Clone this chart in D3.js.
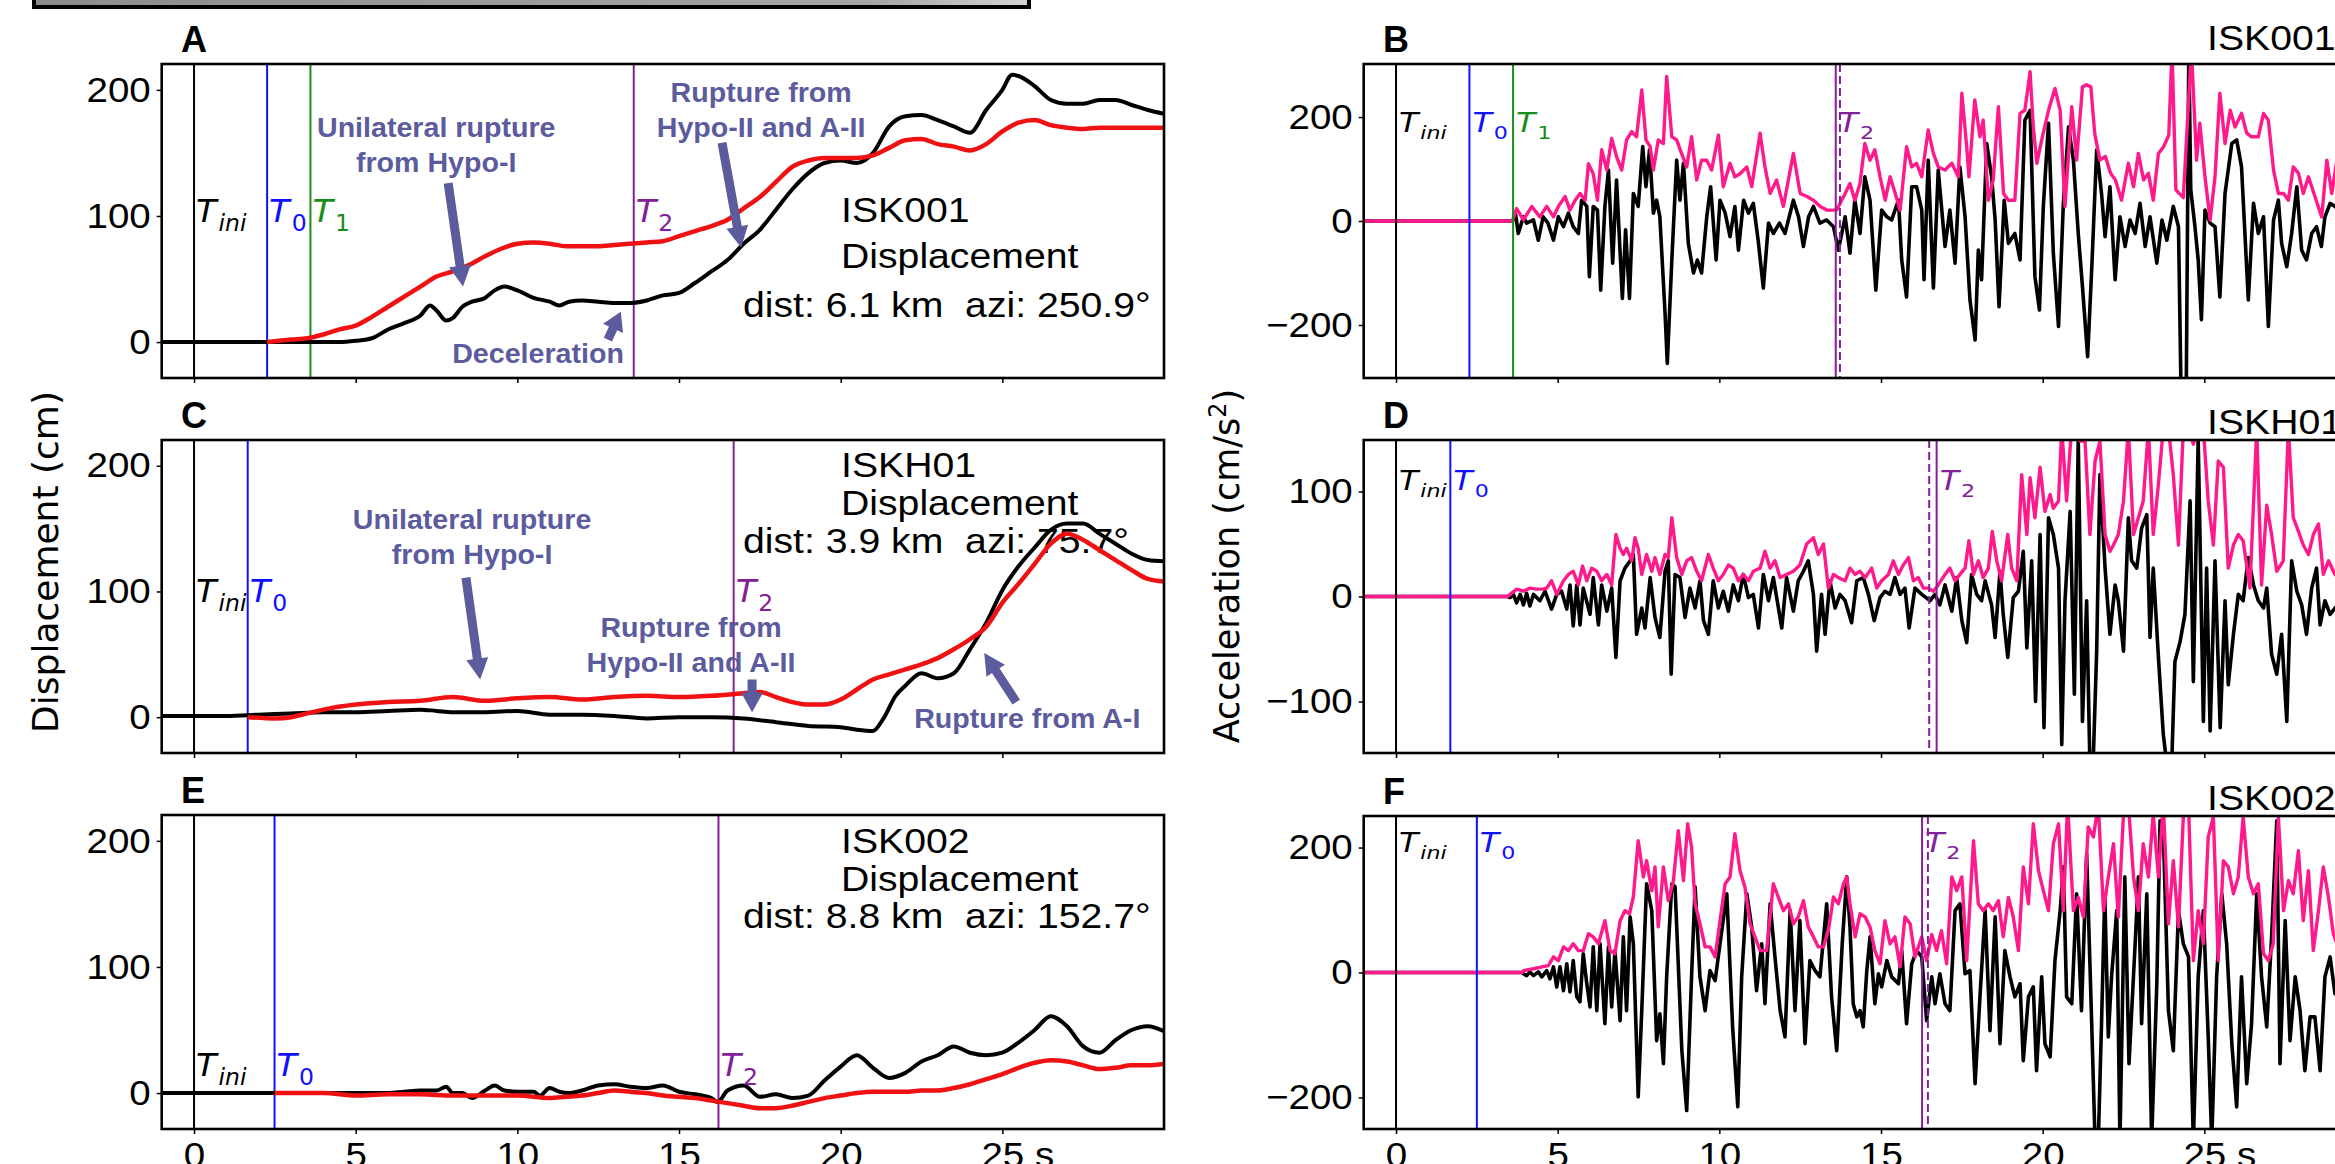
<!DOCTYPE html>
<html>
<head>
<meta charset="utf-8">
<script src="https://cdn.jsdelivr.net/npm/d3@7"></script>
<style>
body { margin: 0; background: #fff; }
svg { display: block; }
</style>
</head>
<body>
<svg id="fig" width="2335" height="1164"></svg>
<script>
// ---- data: [time (s), value] ----
var dispA_obs = [[-1,0],[4,0],[4.5,0],[5,1],[5.5,3],[6,10],[6.5,15],[7,21],[7.3,29],[7.5,25],[7.8,17],[8,19],[8.3,28],[8.6,32],[9,35],[9.3,41],[9.6,44],[10,41],[10.5,35],[11,32],[11.3,29],[11.6,32],[12,33],[12.5,32],[13,31],[13.5,31],[14,33],[14.5,37],[15,39],[15.5,47],[16,56],[16.5,65],[17,78],[17.5,89],[18,105],[18.5,121],[19,134],[19.5,142],[20,144],[20.5,142],[21,150],[21.5,171],[22,179],[22.5,180],[23,176],[23.5,171],[24,166],[24.5,184],[25,200],[25.3,212],[25.5,211],[26,203],[26.5,192],[27,189],[27.5,189],[28,192],[28.5,192],[29,188],[29.5,184],[30,181]];
var dispA_syn = [[2.26,0],[3,2],[3.5,3],[4,6],[4.5,10],[5,13],[5.5,20],[6,28],[6.5,36],[7,44],[7.5,52],[8,56],[8.5,61],[9,68],[9.5,74],[10,78],[10.5,79],[11,78],[11.5,76],[12,76],[12.5,76],[13,77],[13.5,78],[14,79],[14.5,80],[15,84],[15.5,88],[16,92],[16.5,97],[17,106],[17.5,115],[18,127],[18.5,139],[19,144],[19.5,146],[20,146],[20.5,146],[21,148],[21.5,154],[22,160],[22.5,161],[23,157],[23.5,155],[24,152],[24.5,157],[25,167],[25.5,174],[26,176],[26.5,172],[27,170],[27.5,169],[28,170],[29,170],[30,170]];
var dispC_obs = [[-1,1],[1,1],[2,2],[3,3],[4,4],[5,4],[6,5],[7,6],[7.5,5],[8,4],[9,4],[10,5],[11,2],[12,2],[13,1],[14,-1],[15,0],[16,0],[17,-1],[18,-4],[19,-7],[20,-8],[20.5,-10],[21,-11],[21.3,-2],[21.7,17],[22,25],[22.5,35],[23,31],[23.5,35],[24,54],[24.5,75],[25,101],[25.5,120],[26,135],[26.5,149],[27,154],[27.5,154],[28,146],[28.5,138],[29,130],[29.5,125],[30,124]];
var dispC_syn = [[1.66,0],[2.5,-1],[3,0],[3.5,3],[4,6],[5,10],[6,12],[7,13],[8,16],[9,13],[10,15],[11,16],[12,14],[13,16],[14,17],[15,16],[16,17],[17,19],[17.5,20],[18,16],[18.5,12],[19,10],[19.5,10],[20,14],[20.5,22],[21,30],[21.5,34],[22,38],[22.5,42],[23,47],[23.5,54],[24,62],[24.5,72],[25,91],[25.5,106],[26,122],[26.5,138],[27,146],[27.5,141],[28,133],[28.5,125],[29,117],[29.5,110],[30,108]];
var dispE_obs = [[-1,0],[6,0],[6.5,1],[7,2],[7.5,2],[7.8,5],[8,0],[8.3,0],[8.6,-4],[9,2],[9.3,6],[9.6,2],[10,1],[10.5,1],[10.7,-2],[11,4],[11.3,1],[11.6,0],[12,2],[12.5,6],[13,7],[13.5,5],[14,4],[14.5,6],[15,1],[15.5,-1],[16,-4],[16.2,-7],[16.5,2],[17,6],[17.5,-3],[18,-1],[18.5,-4],[19,-2],[19.5,10],[20,21],[20.5,30],[21,20],[21.5,12],[22,16],[22.5,25],[23,30],[23.5,37],[24,32],[24.5,30],[25,32],[25.5,40],[26,50],[26.5,61],[27,53],[27.5,37],[28,32],[28.5,42],[29,50],[29.5,53],[30,49]];
var dispE_syn = [[2.49,0],[4,0],[5,-2],[6,-1],[7,-1],[8,-2],[9,-2],[10,-2],[11,-4],[11.5,-3],[12,-2],[12.5,0],[13,2],[13.5,1],[14,0],[14.5,-2],[15,-3],[15.5,-4],[16,-6],[16.5,-8],[17,-10],[17.5,-12],[18,-12],[18.5,-10],[19,-7],[19.5,-4],[20,-2],[20.5,0],[21,1],[22,1],[22.5,2],[23,2],[23.5,4],[24,7],[24.5,11],[25,15],[25.5,20],[26,24],[26.5,26],[27,25],[27.5,22],[28,19],[28.5,20],[29,22],[29.5,22],[30,23]];

var accB_obs = [[-1,0],[3.60,0],[3.70,12],[3.78,-24],[3.94,8],[4.04,-4],[4.25,2],[4.40,-37],[4.55,8],[4.70,-4],[4.87,-37],[5.02,8],[5.18,-11],[5.33,15],[5.48,-11],[5.64,-24],[5.74,40],[5.90,28],[5.98,-107],[6.10,28],[6.23,21],[6.33,-133],[6.46,28],[6.57,98],[6.70,-81],[6.82,79],[7.00,-149],[7.10,-17],[7.22,-149],[7.34,53],[7.49,28],[7.63,143],[7.73,66],[7.84,137],[7.96,15],[8.06,40],[8.16,8],[8.32,-177],[8.39,-274],[8.53,-75],[8.68,117],[8.78,40],[8.89,111],[9.04,-43],[9.20,-100],[9.32,-75],[9.45,-100],[9.61,8],[9.73,66],[9.90,-75],[10.02,40],[10.18,15],[10.33,-30],[10.48,28],[10.59,-56],[10.75,40],[10.90,15],[11.05,34],[11.20,-37],[11.36,-129],[11.52,-4],[11.67,-24],[11.86,-4],[12.03,-24],[12.29,40],[12.45,8],[12.60,-49],[12.76,8],[12.91,28],[13.11,-4],[13.32,2],[13.53,-11],[13.68,-56],[13.89,8],[14.04,-62],[14.19,40],[14.35,-24],[14.50,85],[14.66,40],[14.84,-133],[15.02,21],[15.18,8],[15.33,2],[15.54,40],[15.64,-75],[15.79,-146],[15.95,66],[16.10,66],[16.26,21],[16.33,-113],[16.46,117],[16.62,-129],[16.77,98],[16.98,-49],[17.13,21],[17.29,-81],[17.44,104],[17.60,8],[17.75,-151],[17.91,-229],[18.01,-56],[18.11,-113],[18.27,149],[18.42,85],[18.53,2],[18.65,-165],[18.81,40],[18.94,-43],[19.14,-24],[19.30,-75],[19.45,194],[19.61,213],[19.76,-107],[19.90,-171],[20.02,28],[20.18,188],[20.33,-62],[20.49,-203],[20.64,34],[20.80,181],[20.95,117],[21.10,-24],[21.23,-126],[21.39,-261],[21.52,-88],[21.67,137],[21.82,53],[21.93,-30],[22.08,66],[22.24,-113],[22.39,8],[22.55,-49],[22.70,2],[22.86,-24],[23.01,34],[23.17,-49],[23.32,8],[23.53,-81],[23.69,2],[23.84,-37],[24.04,28],[24.20,-11],[24.28,-330],[24.44,-330],[24.52,330],[24.58,60],[24.71,-11],[24.81,-75],[24.91,-190],[25.02,21],[25.18,-4],[25.33,-11],[25.48,-146],[25.64,53],[25.85,149],[26.00,156],[26.15,104],[26.36,-152],[26.52,34],[26.67,-24],[26.83,8],[26.98,-203],[27.14,2],[27.29,40],[27.39,-43],[27.55,-88],[27.70,-24],[27.86,66],[28.01,-56],[28.16,-75],[28.32,-24],[28.47,-11],[28.62,-49],[28.73,8],[28.89,34],[29.04,28],[29.2,20]];
var accB_syn = [[-1,0],[3.60,0],[3.73,24],[3.94,2],[4.20,28],[4.45,8],[4.66,28],[4.87,8],[5.02,28],[5.23,47],[5.38,21],[5.54,40],[5.69,53],[5.85,40],[5.95,110],[6.10,91],[6.23,40],[6.36,137],[6.52,98],[6.67,159],[6.82,124],[6.98,98],[7.13,156],[7.29,172],[7.44,162],[7.60,252],[7.73,156],[7.86,143],[7.96,98],[8.11,156],[8.27,149],[8.37,278],[8.53,162],[8.68,156],[8.83,130],[8.99,104],[9.14,162],[9.30,79],[9.45,117],[9.61,117],[9.76,98],[9.97,165],[10.12,66],[10.33,111],[10.48,85],[10.64,91],[10.85,104],[11.00,66],[11.26,169],[11.41,104],[11.57,53],[11.77,79],[11.98,28],[12.29,130],[12.50,53],[12.71,47],[12.91,40],[13.12,28],[13.32,21],[13.63,21],[13.89,53],[14.04,72],[14.19,40],[14.35,72],[14.50,149],[14.66,117],[14.81,137],[14.97,85],[15.13,40],[15.28,85],[15.44,53],[15.59,21],[15.79,143],[15.95,104],[16.10,111],[16.26,85],[16.46,175],[16.62,130],[16.77,104],[16.98,98],[17.19,111],[17.39,85],[17.50,246],[17.65,143],[17.72,85],[17.90,233],[18.06,162],[18.16,194],[18.32,40],[18.47,79],[18.63,220],[18.79,53],[18.94,40],[19.14,40],[19.30,207],[19.45,213],[19.61,287],[19.71,181],[19.82,111],[19.97,156],[20.18,213],[20.38,255],[20.54,213],[20.69,28],[20.90,220],[21.05,117],[21.23,258],[21.36,262],[21.49,258],[21.61,168],[21.77,117],[21.94,124],[22.10,92],[22.25,79],[22.44,40],[22.65,111],[22.81,66],[22.96,130],[23.12,79],[23.27,92],[23.42,40],[23.58,130],[23.74,143],[23.90,165],[24.00,330],[24.12,60],[24.35,45],[24.60,330],[24.76,117],[24.86,188],[25.02,85],[25.18,2],[25.33,85],[25.48,246],[25.64,149],[25.80,213],[25.95,181],[26.15,207],[26.31,169],[26.46,162],[26.67,162],[26.83,207],[26.98,194],[27.14,98],[27.29,53],[27.45,53],[27.60,40],[27.75,104],[27.91,92],[28.06,53],[28.22,85],[28.42,47],[28.63,8],[28.79,117],[28.94,53],[29.10,117]];

var accD_obs = [[-1,0],[3.45,0],[3.53,-1],[3.63,2],[3.73,-6],[3.84,2],[3.94,-8],[4.04,3],[4.14,-9],[4.25,2],[4.45,-4],[4.61,5],[4.81,-12],[4.97,2],[5.12,5],[5.28,-12],[5.38,11],[5.48,-28],[5.59,11],[5.69,-27],[5.79,8],[6.00,-17],[6.10,18],[6.26,-27],[6.36,11],[6.52,-14],[6.67,8],[6.80,-58],[6.93,15],[7.08,27],[7.24,34],[7.34,40],[7.44,-36],[7.60,-11],[7.70,-30],[7.86,18],[8.01,-20],[8.16,-39],[8.32,24],[8.42,34],[8.51,-74],[8.63,21],[8.78,18],[8.94,-20],[9.09,8],[9.25,-11],[9.40,15],[9.51,-23],[9.66,-36],[9.81,15],[9.97,-11],[10.12,5],[10.28,-14],[10.43,11],[10.59,-4],[10.74,21],[10.90,-1],[11.05,2],[11.21,-30],[11.36,21],[11.52,-4],[11.67,18],[11.93,-30],[12.08,18],[12.29,-14],[12.44,15],[12.60,24],[12.75,34],[12.91,2],[13.01,-52],[13.16,2],[13.27,-36],[13.42,15],[13.58,-11],[13.73,2],[13.89,-4],[14.09,-25],[14.25,15],[14.45,18],[14.61,2],[14.79,-23],[14.97,-1],[15.12,5],[15.28,2],[15.43,18],[15.59,2],[15.74,8],[15.87,-30],[16.05,8],[16.26,2],[16.52,-4],[16.67,2],[16.82,-8],[16.98,11],[17.19,-14],[17.34,18],[17.50,-23],[17.65,-44],[17.80,21],[17.96,2],[18.11,-4],[18.22,15],[18.42,-8],[18.53,-39],[18.68,24],[18.78,-17],[18.92,-58],[19.09,-1],[19.25,5],[19.40,43],[19.51,-49],[19.66,34],[19.78,-100],[19.92,59],[20.04,-125],[20.18,75],[20.33,59],[20.49,27],[20.59,-141],[20.69,-4],[20.85,81],[20.98,-93],[21.10,150],[21.23,-119],[21.36,-4],[21.46,-160],[21.56,-160],[21.67,-52],[21.77,116],[21.93,27],[22.08,-36],[22.24,11],[22.34,-4],[22.50,-52],[22.65,75],[22.75,34],[22.91,27],[23.06,65],[23.22,78],[23.32,-39],[23.42,27],[23.58,-58],[23.73,-131],[23.84,-160],[23.99,-160],[24.09,-62],[24.25,-43],[24.40,-17],[24.56,91],[24.66,-81],[24.81,150],[24.97,-119],[25.07,27],[25.18,-128],[25.33,34],[25.49,-125],[25.64,-4],[25.74,-84],[25.90,-36],[26.05,2],[26.20,-4],[26.36,37],[26.52,11],[26.67,-4],[26.83,-11],[26.93,8],[27.08,-55],[27.24,-74],[27.39,-36],[27.55,-119],[27.70,34],[27.86,5],[28.01,-8],[28.16,-36],[28.32,8],[28.47,27],[28.58,-27],[28.73,-4],[28.89,-17],[29.04,-11],[29.2,-5]];
var accD_syn = [[-1,0],[3.45,0],[3.53,2],[3.73,7],[3.94,5],[4.14,8],[4.35,7],[4.56,7],[4.66,8],[4.81,15],[4.97,2],[5.18,15],[5.33,21],[5.48,24],[5.64,11],[5.77,29],[5.90,15],[6.05,27],[6.21,24],[6.36,15],[6.52,21],[6.67,11],[6.80,59],[6.93,46],[7.03,40],[7.13,46],[7.29,34],[7.39,56],[7.49,46],[7.60,21],[7.75,40],[7.91,24],[8.01,37],[8.16,21],[8.32,40],[8.42,37],[8.53,75],[8.68,37],[8.84,21],[8.99,34],[9.14,37],[9.30,24],[9.45,15],[9.66,40],[9.81,27],[9.97,15],[10.12,21],[10.28,30],[10.43,27],[10.59,15],[10.74,21],[10.90,15],[11.05,24],[11.26,27],[11.41,43],[11.57,27],[11.72,34],[11.88,18],[12.08,21],[12.29,24],[12.49,30],[12.70,50],[12.91,56],[13.06,40],[13.22,50],[13.37,8],[13.53,21],[13.68,18],[13.89,15],[14.04,27],[14.20,21],[14.35,24],[14.51,18],[14.71,27],[14.87,8],[15.02,15],[15.23,21],[15.38,34],[15.54,21],[15.69,30],[15.85,37],[16.00,15],[16.15,18],[16.31,8],[16.46,8],[16.62,5],[16.77,11],[16.98,21],[17.13,27],[17.29,15],[17.44,21],[17.60,27],[17.72,53],[17.86,21],[18.01,34],[18.16,18],[18.32,27],[18.44,62],[18.58,34],[18.73,15],[18.92,59],[19.04,27],[19.20,15],[19.35,116],[19.51,59],[19.61,113],[19.76,75],[19.92,123],[20.07,81],[20.23,97],[20.33,84],[20.49,91],[20.59,160],[20.74,91],[20.89,160],[21.05,160],[21.15,148],[21.31,148],[21.46,59],[21.62,129],[21.77,148],[21.93,59],[22.08,43],[22.19,49],[22.34,59],[22.50,91],[22.65,160],[22.81,59],[22.96,75],[23.11,91],[23.27,160],[23.42,59],[23.58,107],[23.73,160],[23.89,160],[24.04,116],[24.20,49],[24.35,160],[24.51,160],[24.66,145],[24.81,160],[24.97,160],[25.12,91],[25.28,49],[25.43,129],[25.59,123],[25.74,27],[25.90,49],[26.05,59],[26.20,53],[26.41,8],[26.62,160],[26.77,11],[26.93,87],[27.08,59],[27.24,24],[27.44,34],[27.60,160],[27.75,75],[27.91,62],[28.06,49],[28.22,40],[28.37,59],[28.53,69],[28.68,21],[28.84,34],[29.04,21],[29.2,25]];

var accF_obs = [[-1,0],[3.9,0],[3.94,-2],[4.04,-5],[4.14,1],[4.25,-5],[4.40,1],[4.51,-7],[4.66,3],[4.76,-10],[4.87,9],[4.97,-23],[5.07,9],[5.18,-29],[5.28,14],[5.38,-31],[5.48,19],[5.59,-39],[5.69,-47],[5.79,30],[5.90,-18],[6.00,-55],[6.10,41],[6.21,-61],[6.31,46],[6.46,-82],[6.57,41],[6.67,-55],[6.77,35],[6.93,-77],[7.03,57],[7.13,-61],[7.24,89],[7.34,46],[7.49,-199],[7.60,-61],[7.75,142],[7.91,99],[8.06,-109],[8.16,-66],[8.27,-146],[8.37,-7],[8.53,142],[8.63,137],[8.84,-125],[8.99,-221],[9.14,-7],[9.25,137],[9.40,-7],[9.56,-61],[9.71,3],[9.87,-13],[10.02,46],[10.23,126],[10.41,-87],[10.57,-215],[10.69,-7],[10.85,126],[11.00,73],[11.15,-29],[11.31,46],[11.41,-50],[11.57,110],[11.72,25],[11.88,-61],[12.03,-103],[12.19,99],[12.34,-61],[12.49,83],[12.65,-114],[12.80,19],[12.96,3],[13.11,-7],[13.32,110],[13.47,-39],[13.63,-125],[13.80,46],[13.94,153],[14.04,73],[14.14,-50],[14.25,-71],[14.35,-61],[14.45,-87],[14.56,3],[14.66,57],[14.81,-50],[14.92,-2],[15.02,-23],[15.18,19],[15.33,-7],[15.54,-18],[15.64,35],[15.79,-82],[15.95,14],[16.10,35],[16.26,25],[16.41,-77],[16.57,-7],[16.67,-50],[16.82,-2],[16.98,-50],[17.13,-61],[17.29,99],[17.44,110],[17.60,-2],[17.75,3],[17.91,-178],[18.06,-39],[18.22,99],[18.37,-93],[18.53,89],[18.68,-114],[18.83,35],[18.99,-7],[19.14,-39],[19.30,-18],[19.40,-141],[19.56,-39],[19.71,-23],[19.81,-157],[19.97,-7],[20.07,-114],[20.23,-135],[20.38,19],[20.54,99],[20.64,169],[20.74,-39],[20.90,-50],[21.05,126],[21.20,-61],[21.36,190],[21.51,-71],[21.62,-270],[21.72,-270],[21.82,-82],[21.92,126],[22.03,-103],[22.13,-7],[22.29,99],[22.39,-270],[22.54,153],[22.67,-146],[22.86,46],[22.96,153],[23.06,-82],[23.22,126],[23.37,-270],[23.53,-18],[23.63,243],[23.73,227],[23.89,-61],[24.04,-125],[24.20,99],[24.35,46],[24.51,25],[24.66,-270],[24.81,-7],[24.97,99],[25.12,-103],[25.23,-270],[25.38,-7],[25.54,126],[25.69,46],[25.85,-114],[26.00,-215],[26.15,-7],[26.31,-178],[26.46,-82],[26.62,126],[26.77,-7],[26.93,-87],[27.08,57],[27.24,243],[27.34,-146],[27.50,83],[27.65,-109],[27.81,-7],[27.96,-61],[28.11,-157],[28.27,-71],[28.42,-71],[28.58,-157],[28.73,-7],[28.89,25],[29.04,-34],[29.2,-20]];
var accF_syn = [[-1,0],[3.9,0],[3.94,3],[4.25,6],[4.51,9],[4.71,11],[4.87,25],[5.02,19],[5.18,41],[5.33,35],[5.48,46],[5.64,35],[5.79,35],[5.95,62],[6.10,57],[6.26,46],[6.46,83],[6.62,35],[6.77,30],[6.93,83],[7.08,99],[7.22,94],[7.34,121],[7.49,211],[7.65,153],[7.75,179],[7.91,131],[8.01,169],[8.11,73],[8.27,169],[8.42,115],[8.58,147],[8.73,227],[8.89,147],[9.02,238],[9.14,201],[9.25,110],[9.40,78],[9.56,41],[9.71,41],[9.87,25],[10.02,83],[10.18,142],[10.33,153],[10.48,222],[10.64,163],[10.79,137],[10.95,78],[11.10,57],[11.26,35],[11.46,35],[11.67,142],[11.82,121],[11.98,99],[12.14,110],[12.29,78],[12.44,89],[12.60,115],[12.75,73],[12.91,57],[13.06,41],[13.22,41],[13.37,67],[13.53,121],[13.68,110],[13.84,142],[13.94,153],[14.04,110],[14.20,57],[14.35,94],[14.51,89],[14.66,73],[14.81,35],[14.97,14],[15.12,83],[15.28,46],[15.43,57],[15.59,9],[15.74,89],[15.90,78],[16.05,25],[16.26,57],[16.41,19],[16.57,61],[16.72,35],[16.87,67],[17.03,14],[17.19,153],[17.34,131],[17.50,153],[17.65,19],[17.86,211],[18.01,110],[18.16,99],[18.32,110],[18.47,99],[18.63,115],[18.78,57],[18.94,120],[19.09,89],[19.25,35],[19.40,169],[19.56,110],[19.71,238],[19.87,163],[20.02,131],[20.18,99],[20.33,206],[20.49,238],[20.64,99],[20.77,270],[20.95,99],[21.10,120],[21.26,89],[21.41,233],[21.57,217],[21.72,270],[21.88,99],[22.03,153],[22.19,206],[22.34,89],[22.50,254],[22.65,270],[22.81,153],[22.96,99],[23.11,206],[23.27,153],[23.42,254],[23.58,153],[23.73,270],[23.89,78],[24.04,179],[24.20,73],[24.35,249],[24.51,270],[24.66,19],[24.81,99],[24.97,46],[25.12,217],[25.28,249],[25.43,19],[25.59,179],[25.74,169],[25.90,126],[26.05,153],[26.20,249],[26.36,153],[26.52,126],[26.67,142],[26.83,30],[26.98,19],[27.13,46],[27.29,249],[27.45,99],[27.60,147],[27.75,126],[27.91,195],[28.06,83],[28.22,163],[28.37,35],[28.53,99],[28.68,169],[28.84,120],[28.99,62],[29.1,46]];

// phase times (s): [subscript, time]
var marksA = [["ini",0],["0",2.26],["1",3.6],["2",13.6]];
var marksB = [["ini",0],["0",2.27],["1",3.62],["2",13.6],["2d",13.73]];
var marksC = [["ini",0],["0",1.66],["2",16.69]];
var marksD = [["ini",0],["0",1.68],["2d",16.49],["2",16.72]];
var marksE = [["ini",0],["0",2.49],["2",16.22]];
var marksF = [["ini",0],["0",2.5],["2",16.27],["2d",16.45]];

var stations = ["ISK001","ISKH01","ISK002"];
var dists = ["6.1","3.9","8.8"];
var azis = ["250.9","75.7","152.7"];
var xTicks = [0,5,10,15,20,25];

// ---- layout ----
var SANS = '"Liberation Sans", Arial, Helvetica, sans-serif';
var MATH = '"DejaVu Sans", sans-serif';
var NOTE = "#5b5b9d";
var markColor = {"ini":"#000","0":"#1010ff","1":"#1a8c1a","2":"#82209a","2d":"#82209a"};

var svg = d3.select("#fig");

var defs = svg.append("defs");
var grad = defs.append("linearGradient").attr("id","banner");
grad.append("stop").attr("offset","0").attr("stop-color","#8c8c8c");
grad.append("stop").attr("offset","0.85").attr("stop-color","#a6a6a6");
grad.append("stop").attr("offset","1").attr("stop-color","#d4d4d4");
svg.append("rect").attr("x",34).attr("y",-20).attr("width",995).attr("height",27)
  .attr("fill","url(#banner)").attr("stroke","#000").attr("stroke-width",4);

var rows = [[64,378],[440,753],[815,1129]];
var xLeft = d3.scaleLinear().domain([-1,30]).range([161.7,1164]);
var xRight = d3.scaleLinear().domain([-1,30]).range([1363.7,2366]);

var panels = [
  {key:"A", side:0, row:0, kind:"disp", obs:dispA_obs, syn:dispA_syn, marks:marksA, dom:[-28.5,220.5], ticks:[0,100,200], tLab:222,
   info:[[841,222],[841,268],[743,317]],
   notes:[{text:["Unilateral rupture","from Hypo-I"], at:[7.49,163], arrow:[[7.86,126],[8.32,44]]},
          {text:["Rupture from","Hypo-II and A-II"], at:[17.54,190], arrow:[[16.33,158],[16.92,75]]},
          {text:["Deceleration"], at:[10.64,-17], arrow:[[12.8,2],[13.2,24]]}]},
  {key:"C", side:0, row:1, kind:"disp", obs:dispC_obs, syn:dispC_syn, marks:marksC, dom:[-28.5,220.5], ticks:[0,100,200], tLab:602,
   info:[[841,477],[841,515],[743,553]],
   notes:[{text:["Unilateral rupture","from Hypo-I"], at:[8.6,150], arrow:[[8.41,111],[8.85,30]]},
          {text:["Rupture from","Hypo-II and A-II"], at:[15.37,64], arrow:[[17.26,30],[17.26,4]]},
          {text:["Rupture from A-I"], at:[25.77,-9], arrow:[[25.43,12],[24.44,51]]}]},
  {key:"E", side:0, row:2, kind:"disp", obs:dispE_obs, syn:dispE_syn, marks:marksE, dom:[-28.5,220.5], ticks:[0,100,200], tLab:1076,
   info:[[841,853],[841,891],[743,928]], notes:[]},
  {key:"B", side:1, row:0, kind:"acc", obs:accB_obs, syn:accB_syn, marks:marksB, dom:[-302,302], ticks:[-200,0,200], tLab:132, stY:50},
  {key:"D", side:1, row:1, kind:"acc", obs:accD_obs, syn:accD_syn, marks:marksD, dom:[-149,149], ticks:[-100,0,100], tLab:490, stY:434},
  {key:"F", side:1, row:2, kind:"acc", obs:accF_obs, syn:accF_syn, marks:marksF, dom:[-250.5,250.5], ticks:[-200,0,200], tLab:852, stY:810}
];

function txt(g, x, y, s, o) {
  var t = g.append("text")
    .attr("transform", "translate(" + x + "," + y + ") scale(" + (o.sx || 1) + ",1)")
    .attr("font-family", o.ff || SANS)
    .attr("font-size", o.fs)
    .attr("fill", o.fill || "#000")
    .attr("text-anchor", o.anchor || "start")
    .style("white-space", "pre")
    .text(s);
  if (o.bold) t.attr("font-weight", "bold");
  return t;
}

function tLabel(g, x, y, sub, color, fs, sx) {
  var t = g.append("text")
    .attr("transform", "translate(" + x + "," + y + ") scale(" + sx + ",1)")
    .attr("font-family", MATH).attr("font-size", fs).attr("fill", color);
  t.append("tspan").attr("font-style", "italic").text("T");
  t.append("tspan").attr("font-size", fs * 0.7).attr("dy", fs * 0.27).attr("dx", fs * 0.06)
    .attr("font-style", sub === "ini" ? "italic" : "normal").text(sub);
}

function arrow(g, p, q) {
  var dx = q[0] - p[0], dy = q[1] - p[1];
  var L = Math.sqrt(dx * dx + dy * dy), ux = dx / L, uy = dy / L, nx = -uy, ny = ux;
  var sw = 4.5, hw = 11, hl = Math.min(21, L * 0.6);
  var bx = q[0] - ux * hl, by = q[1] - uy * hl;
  var pts = [
    [p[0] + nx * sw, p[1] + ny * sw], [bx + nx * sw, by + ny * sw], [bx + nx * hw, by + ny * hw],
    [q[0], q[1]], [bx - nx * hw, by - ny * hw], [bx - nx * sw, by - ny * sw], [p[0] - nx * sw, p[1] - ny * sw]
  ];
  g.append("polygon").attr("points", pts.map(function (d) { return d.join(","); }).join(" ")).attr("fill", NOTE);
}

panels.forEach(function (p) {
  var x = p.side === 0 ? xLeft : xRight;
  var r = p.row === 2 && p.side === 1 ? [816, 1129] : rows[p.row];
  var y = d3.scaleLinear().domain(p.dom).range([r[1], r[0]]);
  var x0 = x.range()[0], x1 = x.range()[1];
  var g = svg.append("g");

  g.append("clipPath").attr("id", "clip" + p.key).append("rect")
    .attr("x", x0).attr("y", r[0]).attr("width", x1 - x0).attr("height", r[1] - r[0]);

  // panel letter
  txt(g, p.side === 0 ? 181 : 1383, r[0] - 12, p.key, {fs: 36, bold: true});

  // station text
  var st = stations[p.row];
  if (p.kind === "disp") {
    txt(g, p.info[0][0], p.info[0][1], st, {fs: 35, sx: 1.12});
    txt(g, p.info[1][0], p.info[1][1], "Displacement", {fs: 35, sx: 1.12});
    txt(g, p.info[2][0], p.info[2][1], "dist: " + dists[p.row] + " km  azi: " + azis[p.row] + "°", {fs: 35, sx: 1.12});
  } else {
    txt(g, 2207, p.stY, st, {fs: 35, sx: 1.12});
  }

  var plot = g.append("g").attr("clip-path", "url(#clip" + p.key + ")");
  var line = d3.line().x(function (d) { return x(d[0]); }).y(function (d) { return y(d[1]); });

  function drawMarks() {
    p.marks.forEach(function (m) {
      plot.append("line").attr("x1", x(m[1])).attr("x2", x(m[1])).attr("y1", r[0]).attr("y2", r[1])
        .attr("stroke", markColor[m[0]]).attr("stroke-width", 2)
        .attr("stroke-dasharray", m[0] === "2d" ? "8,4" : null);
    });
  }

  if (p.kind === "disp") {
    drawMarks();
    var smooth = d3.line().curve(d3.curveMonotoneX).x(function (d) { return x(d[0]); }).y(function (d) { return y(d[1]); });
    plot.append("path").attr("d", smooth(p.obs)).attr("fill", "none").attr("stroke", "#000").attr("stroke-width", 4).attr("stroke-linejoin", "round");
    plot.append("path").attr("d", smooth(p.syn)).attr("fill", "none").attr("stroke", "#f01212").attr("stroke-width", 4.5).attr("stroke-linejoin", "round");
  } else {
    plot.append("path").attr("d", line(p.obs)).attr("fill", "none").attr("stroke", "#000").attr("stroke-width", 3.6).attr("stroke-linejoin", "round");
    plot.append("path").attr("d", line(p.syn)).attr("fill", "none").attr("stroke", "#ff1a8c").attr("stroke-width", 3.4).attr("stroke-linejoin", "round");
    drawMarks();
  }

  // phase labels
  var fsT = p.side === 0 ? 32 : 26, sxT = p.side === 0 ? 1.05 : 1.22;
  p.marks.forEach(function (m) {
    if (m[0] === "2d") return;
    var lx = x(m[1]) + (p.side === 0 ? 2 : 3);
    tLabel(g, lx, p.tLab, m[0], markColor[m[0]], fsT, sxT);
  });

  // annotations
  (p.notes || []).forEach(function (n) {
    n.text.forEach(function (s, k) {
      txt(g, x(n.at[0]), y(n.at[1]) + k * 35, s, {fs: 27, bold: true, fill: NOTE, anchor: "middle", sx: 1.06});
    });
    arrow(g, [x(n.arrow[0][0]), y(n.arrow[0][1])], [x(n.arrow[1][0]), y(n.arrow[1][1])]);
  });

  // frame
  g.append("rect").attr("x", x0).attr("y", r[0]).attr("width", x1 - x0).attr("height", r[1] - r[0])
    .attr("fill", "none").attr("stroke", "#000").attr("stroke-width", 2.6);

  // axes
  var ya = g.append("g").attr("transform", "translate(" + x0 + ",0)")
    .call(d3.axisLeft(y).tickValues(p.ticks).tickSize(5).tickPadding(5).tickFormat(d3.format("d")));
  ya.select(".domain").remove();
  ya.selectAll("line").attr("stroke-width", 1.5);
  ya.selectAll("text").attr("font-size", 35).attr("font-family", SANS).attr("transform", "scale(1.1,1)");

  var xa = g.append("g").attr("transform", "translate(0," + r[1] + ")")
    .call(d3.axisBottom(x).tickValues(xTicks).tickSize(5).tickPadding(8)
      .tickFormat(function (d) { return p.row === 2 ? (d === 25 ? "25 s" : d) : ""; }));
  xa.select(".domain").remove();
  xa.selectAll("line").attr("stroke-width", 1.5);
  xa.selectAll("text").attr("font-size", 35).attr("font-family", SANS).attr("transform", "scale(1.1,1)");
  xa.selectAll("text").filter(function (d) { return d === 25; }).attr("text-anchor", "start").attr("x", -19.5);
});

// y-axis titles
svg.append("text").attr("transform", "translate(58,562) rotate(-90)")
  .attr("font-family", MATH).attr("font-size", 36).attr("text-anchor", "middle")
  .text("Displacement (cm)");
var acc = svg.append("text").attr("transform", "translate(1239,566) rotate(-90)")
  .attr("font-family", MATH).attr("font-size", 35).attr("text-anchor", "middle");
acc.append("tspan").text("Acceleration (cm/s");
acc.append("tspan").attr("font-size", 24).attr("dy", -13).text("2");
acc.append("tspan").attr("dy", 13).text(")");
</script>
</body>
</html>
